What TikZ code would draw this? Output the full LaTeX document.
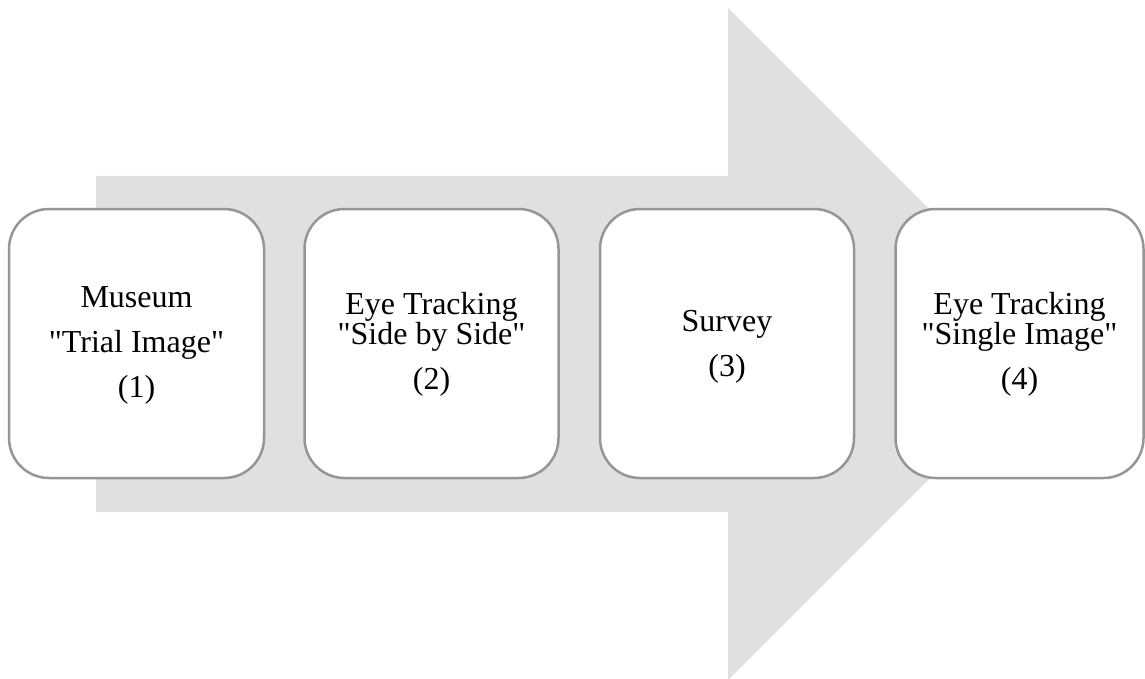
\documentclass[tikz,border=0pt]{standalone}
\usepackage{fontspec}
\setmainfont{Liberation Serif}[Ligatures=TeXOff]
\definecolor{arrowgray}{RGB}{224,224,224}
\definecolor{boxgray}{RGB}{150,150,150}
\tikzset{
  stepbox/.style={draw=boxgray, line width=2.5pt, fill=white, rounded corners=40pt, inner sep=0pt},
  lbl/.style={anchor=base, inner sep=0pt, font=\fontsize{32}{30}\selectfont, text=black}
}
\begin{document}
\begin{tikzpicture}[x=1pt,y=-1pt]
\useasboundingbox (0,0) rectangle (1145,679);
% big arrow
\fill[arrowgray] (96,176) -- (728,176) -- (728,8) -- (1064,344) -- (728,680) -- (728,512) -- (96,512) -- cycle;
% boxes
\node[stepbox, minimum width=255pt, minimum height=269pt] (b1) at (136.5,343.5) {};
\node[stepbox, minimum width=254pt, minimum height=269pt] (b2) at (431.5,343.5) {};
\node[stepbox, minimum width=254pt, minimum height=269pt] (b3) at (727,343.5) {};
\node[stepbox, minimum width=248pt, minimum height=269pt] (b4) at (1019.5,343.5) {};
% labels
\node[lbl] (t1a) at (136.5,307) {Museum};
\node[lbl] (t1b) at (136.5,352) {"Trial Image"};
\node[lbl] (t1c) at (136.5,397) {(1)};
\node[lbl] (t2a) at (431.5,314) {Eye Tracking};
\node[lbl] (t2b) at (431.5,344) {"Side by Side"};
\node[lbl] (t2c) at (431.5,389) {(2)};
\node[lbl] (t3a) at (727,331) {Survey};
\node[lbl] (t3b) at (727,376) {(3)};
\node[lbl] (t4a) at (1019.5,314) {Eye Tracking};
\node[lbl] (t4b) at (1019.5,344) {"Single Image"};
\node[lbl] (t4c) at (1019.5,389) {(4)};
\end{tikzpicture}
\end{document}
